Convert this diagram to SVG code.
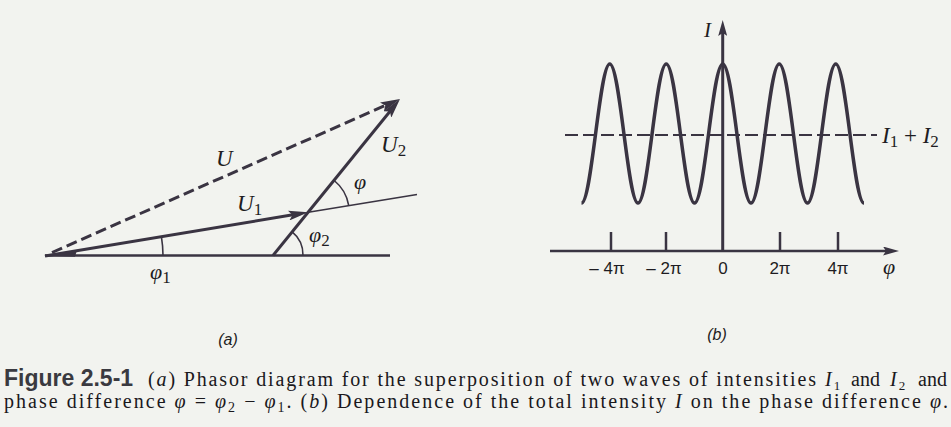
<svg xmlns="http://www.w3.org/2000/svg" width="951" height="427" viewBox="0 0 951 427">
<style>
.ln{stroke:#3a3442;fill:none;stroke-linecap:butt}
.thick{stroke-width:3}
.thin{stroke-width:1.6}
.mid{stroke-width:2.5}
.math{font-family:"Liberation Serif","Times New Roman",serif;font-style:italic;fill:#1e1c22}
.sub{font-style:normal}
.tick{font-family:"Liberation Sans",Arial,sans-serif;font-size:17px;fill:#1e1c22}
.plab{font-family:"Liberation Sans",Arial,sans-serif;font-style:italic;font-size:16px;fill:#1e1c22}
.cap{font-family:"Liberation Serif","Times New Roman",serif;font-size:20px;fill:#1a181c}
.capb{font-family:"Liberation Sans",Arial,sans-serif;font-weight:bold;font-size:23px;fill:#3a3a40}
</style>
<defs>
<marker id="ah" viewBox="0 0 20 10" refX="12" refY="5" markerWidth="20" markerHeight="10" markerUnits="userSpaceOnUse" orient="auto">
<path d="M0,0 L20,5 L0,10 L4,5 z" fill="#3a3442"/>
</marker>
<marker id="ax" viewBox="0 0 16 9" refX="8" refY="4.5" markerWidth="16" markerHeight="9" markerUnits="userSpaceOnUse" orient="auto">
<path d="M0,0 L16,4.5 L0,9 L3,4.5 z" fill="#3a3442"/>
</marker>
</defs>
<rect x="0" y="0" width="951" height="427" fill="#f2f3ef"/>

<g id="panel-a">
<g id="connectors-a">
<line id="baseline" class="ln mid" x1="45" y1="255.5" x2="390" y2="255.5"/>
<line id="extension" class="ln thin" x1="308.3" y1="212.3" x2="417" y2="194.5"/>
<line id="U" class="ln thick" x1="52" y1="252.5" x2="392.7" y2="102.2" stroke-dasharray="11 5" marker-end="url(#ah)"/>
<line id="U1" class="ln thick" x1="45" y1="256" x2="300.4" y2="213.6" marker-end="url(#ah)"/>
<line id="U2" class="ln thick" x1="273" y1="255.5" x2="394.95" y2="105.2" marker-end="url(#ah)"/>
<polygon points="44,256 77,250 75,256.8" fill="#3a3442"/>
<path class="ln thin" d="M163,255.5 A118,118 0 0 0 161.4,236.7"/>
<path class="ln thin" d="M303,255.5 A30,30 0 0 0 291.9,231.7"/>
<path class="ln thin" d="M348.75,205.6 A41,41 0 0 0 334.2,180.5"/>
</g>
<g id="labels-a">
<text class="math" x="216" y="166" font-size="23">U</text>
<text class="math" x="237" y="211" font-size="23">U<tspan class="sub" font-size="17" dy="4">1</tspan></text>
<text class="math" x="381" y="152" font-size="23">U<tspan class="sub" font-size="17" dy="4">2</tspan></text>
<text class="math" x="354" y="189" font-size="22">φ</text>
<text class="math" x="309" y="242" font-size="22">φ<tspan class="sub" font-size="17" dy="4">2</tspan></text>
<text class="math" x="150" y="279" font-size="22">φ<tspan class="sub" font-size="17" dy="4">1</tspan></text>
<text class="plab" x="228" y="345" text-anchor="middle">(a)</text>
</g>
</g>

<g id="panel-b">
<g id="connectors-b">
<line id="I-axis" class="ln thick" x1="722.7" y1="251" x2="722.7" y2="28" marker-end="url(#ax)"/>
<line id="phi-axis" class="ln mid" x1="550" y1="251" x2="891" y2="251" marker-end="url(#ax)"/>
<line class="ln mid" x1="611" y1="232" x2="611" y2="251"/>
<line class="ln mid" x1="666" y1="232" x2="666" y2="251"/>
<line class="ln mid" x1="780" y1="232" x2="780" y2="251"/>
<line class="ln mid" x1="838" y1="232" x2="838" y2="251"/>
<line id="mean" class="ln" stroke-width="2.2" x1="565" y1="135" x2="877" y2="135" stroke-dasharray="13 5"/>
<path id="intensity" class="ln" stroke-width="3.5" d="M581.5,203
c5.112,0 9.518,-33.9 14.125,-69.5 c4.607,-35.6 9.013,-69.5 14.125,-69.5 c5.112,0 9.518,33.9 14.125,69.5 c4.607,35.6 9.013,69.5 14.125,69.5
c5.112,0 9.518,-33.9 14.125,-69.5 c4.607,-35.6 9.013,-69.5 14.125,-69.5 c5.112,0 9.518,33.9 14.125,69.5 c4.607,35.6 9.013,69.5 14.125,69.5
c5.112,0 9.518,-33.9 14.125,-69.5 c4.607,-35.6 9.013,-69.5 14.125,-69.5 c5.112,0 9.518,33.9 14.125,69.5 c4.607,35.6 9.013,69.5 14.125,69.5
c5.112,0 9.518,-33.9 14.125,-69.5 c4.607,-35.6 9.013,-69.5 14.125,-69.5 c5.112,0 9.518,33.9 14.125,69.5 c4.607,35.6 9.013,69.5 14.125,69.5
c5.112,0 9.518,-33.9 14.125,-69.5 c4.607,-35.6 9.013,-69.5 14.125,-69.5 c5.112,0 9.518,33.9 14.125,69.5 c4.607,35.6 9.013,69.5 14.125,69.5"/>
</g>
<g id="labels-b">
<text class="math" x="704" y="37" font-size="21">I</text>
<text class="math" x="882" y="143" font-size="23">I<tspan class="sub" font-size="17" dy="4">1</tspan><tspan class="sub" dy="-4"> + </tspan>I<tspan class="sub" font-size="17" dy="4">2</tspan></text>
<text class="tick" x="607" y="274" text-anchor="middle">– 4π</text>
<text class="tick" x="664" y="274" text-anchor="middle">– 2π</text>
<text class="tick" x="723" y="274" text-anchor="middle">0</text>
<text class="tick" x="780" y="274" text-anchor="middle">2π</text>
<text class="tick" x="838" y="274" text-anchor="middle">4π</text>
<text class="math" x="883" y="274" font-size="22">φ</text>
<text class="plab" x="717" y="340" text-anchor="middle">(b)</text>
</g>
</g>

<g id="caption">
<text class="capb" x="4" y="386">Figure 2.5-1</text>
<text class="cap" x="148" y="386" textLength="668" lengthAdjust="spacing">(<tspan font-style="italic">a</tspan>) Phasor diagram for the superposition of two waves of intensities</text>
<text class="cap" x="825" y="386"><tspan font-style="italic">I</tspan><tspan font-size="13" dx="2" dy="4">1</tspan></text>
<text class="cap" x="851" y="386" font-size="19">and</text>
<text class="cap" x="890" y="386"><tspan font-style="italic">I</tspan><tspan font-size="13" dx="2" dy="4">2</tspan></text>
<text class="cap" x="918" y="386" font-size="17">and</text>
<text class="cap" x="4" y="408" textLength="944" lengthAdjust="spacing">phase difference <tspan font-style="italic">φ</tspan> = <tspan font-style="italic">φ</tspan><tspan font-size="14" dy="4">2</tspan><tspan dy="-4"> − </tspan><tspan font-style="italic">φ</tspan><tspan font-size="14" dy="4">1</tspan><tspan dy="-4">. (</tspan><tspan font-style="italic">b</tspan>) Dependence of the total intensity <tspan font-style="italic">I</tspan> on the phase difference <tspan font-style="italic">φ</tspan>.</text>
</g>
</svg>
